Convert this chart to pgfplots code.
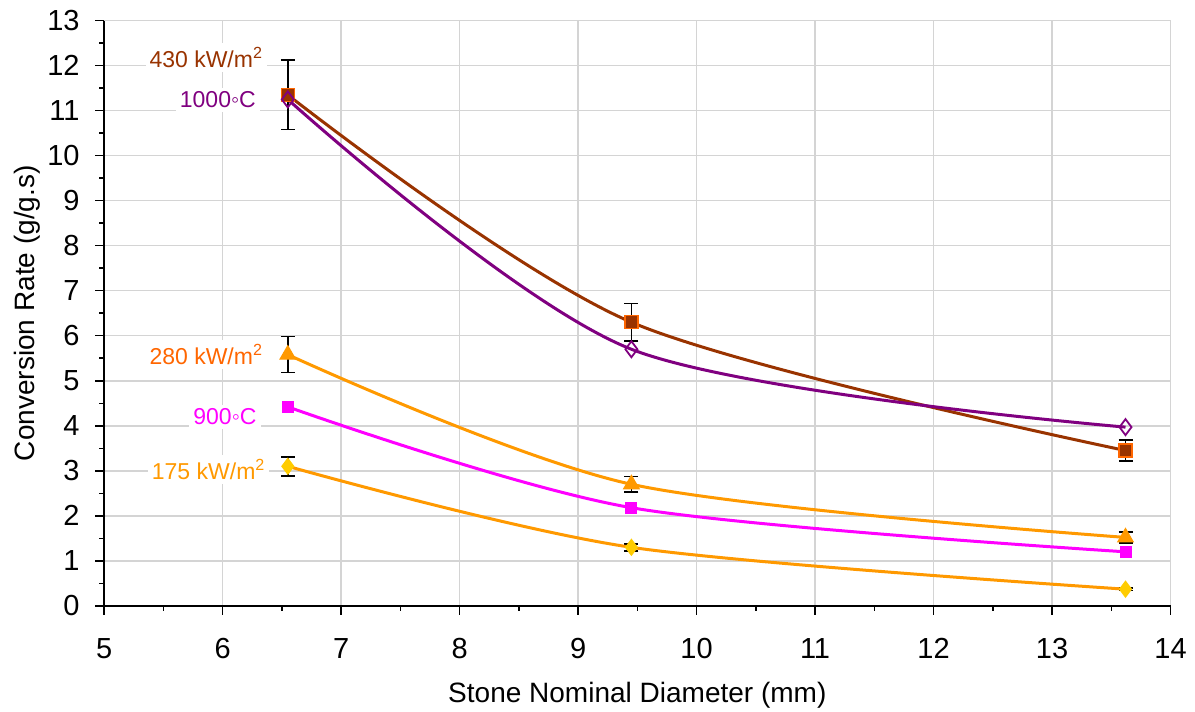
\documentclass[border=0pt]{standalone}
\usepackage{pgfplots}
\pgfplotsset{compat=1.18}
\usepackage{fontspec}
\setmainfont{Liberation Sans}
\definecolor{cbrown}{HTML}{993300}
\definecolor{cbrownedge}{HTML}{FF6600}
\definecolor{cpurple}{HTML}{800080}
\definecolor{corange}{HTML}{FF9900}
\definecolor{cred}{HTML}{FF6600}
\definecolor{cmag}{HTML}{FF00FF}
\definecolor{cgold}{HTML}{FFCC00}
\begin{document}
\begin{tikzpicture}
\begin{axis}[
  scale only axis, width=1066pt, height=585pt,
  xmin=5, xmax=14, ymin=0, ymax=13,
  xtick distance=1, ytick distance=1,
  minor x tick num=1, minor y tick num=1,
  axis x line*=bottom, axis y line*=left,
  axis line style={black, line width=1.5pt},
  tick align=outside,
  major tick length=9pt, minor tick length=5pt,
  tick style={black, line width=1.5pt},
  grid=major,
  major grid style={draw=black!17, line width=1.5pt},
  minor grid style={draw=none},
  tick label style={font=\fontsize{29}{29}\selectfont},
  yticklabel style={xshift=-12pt},
  xticklabel style={yshift=-20pt},
  /pgf/number format/assume math mode=true,
  xlabel={Stone Nominal Diameter (mm)},
  ylabel={Conversion Rate (g/g.s)},
  xlabel style={yshift=-16pt},
  label style={font=\fontsize{28}{28}\selectfont},
  clip=false,
]
% error bars
\addplot[draw=none, mark=none, forget plot,
  error bars/.cd, y dir=both, y explicit,
  error bar style={black, line width=1.6pt},
  error mark options={rotate=90, black, mark size=7pt, line width=1.6pt}]
  coordinates {
  (6.55,11.35) +- (0,0.77)
  (9.45,6.3) +- (0,0.42)
  (13.62,3.45) +- (0,0.23)
  (6.55,5.58) +- (0,0.4)
  (9.45,2.7) +- (0,0.17)
  (13.62,1.52) +- (0,0.12)
  (6.55,3.1) +- (0,0.21)
  (9.45,1.3) +- (0,0.08)
  (13.62,0.37) +- (0,0.03)
  };
% 175 kW/m2
\addplot[corange, line width=3pt, smooth, mark=diamond*, mark size=8pt,
  mark options={fill=cgold, draw=cgold, line width=1pt, solid}]
  coordinates {(6.55,3.1) (9.45,1.3) (13.62,0.37)};
% 900 C
\addplot[cmag, line width=3pt, smooth, mark=square*, mark size=5.5pt,
  mark options={fill=cmag, draw=cmag, line width=1pt, solid}]
  coordinates {(6.55,4.42) (9.45,2.18) (13.62,1.2)};
% 280 kW/m2
\addplot[corange, line width=3pt, smooth, mark=triangle*, mark size=9pt,
  mark options={fill=corange, draw=corange, line width=1pt, solid}]
  coordinates {(6.55,5.58) (9.45,2.7) (13.62,1.52)};
% 430 kW/m2
\addplot[cbrown, line width=3pt, smooth, mark=square*, mark size=6.5pt,
  mark options={fill=cbrown, draw=cbrownedge, line width=1.5pt, solid}]
  coordinates {(6.55,11.35) (9.45,6.3) (13.62,3.45)};
% 1000 C
\addplot[cpurple, line width=3pt, smooth, mark=diamond, mark size=8pt,
  mark options={fill=none, draw=cpurple, line width=1.8pt, solid}]
  coordinates {(6.55,11.25) (9.45,5.7) (13.62,3.97)};
% labels
\begin{scope}[every node/.style={fill=white, inner sep=4pt, font=\fontsize{23}{23}\selectfont}]
\node[text=cbrown] at (axis cs:5.86,12.18) {430 kW/m\textsuperscript{2}};
\node[text=cpurple] at (axis cs:5.96,11.24) {1000◦C};
\node[text=cred] at (axis cs:5.86,5.58) {280 kW/m\textsuperscript{2}};
\node[text=cmag] at (axis cs:6.02,4.2) {900◦C};
\node[text=corange] at (axis cs:5.88,3.03) {175 kW/m\textsuperscript{2}};
\end{scope}
\end{axis}
\path ([xshift=-11pt]current axis.outer west);
\path ([yshift=7pt]current axis.outer north);
\path ([xshift=5pt]current axis.outer east);
\end{tikzpicture}
\end{document}
